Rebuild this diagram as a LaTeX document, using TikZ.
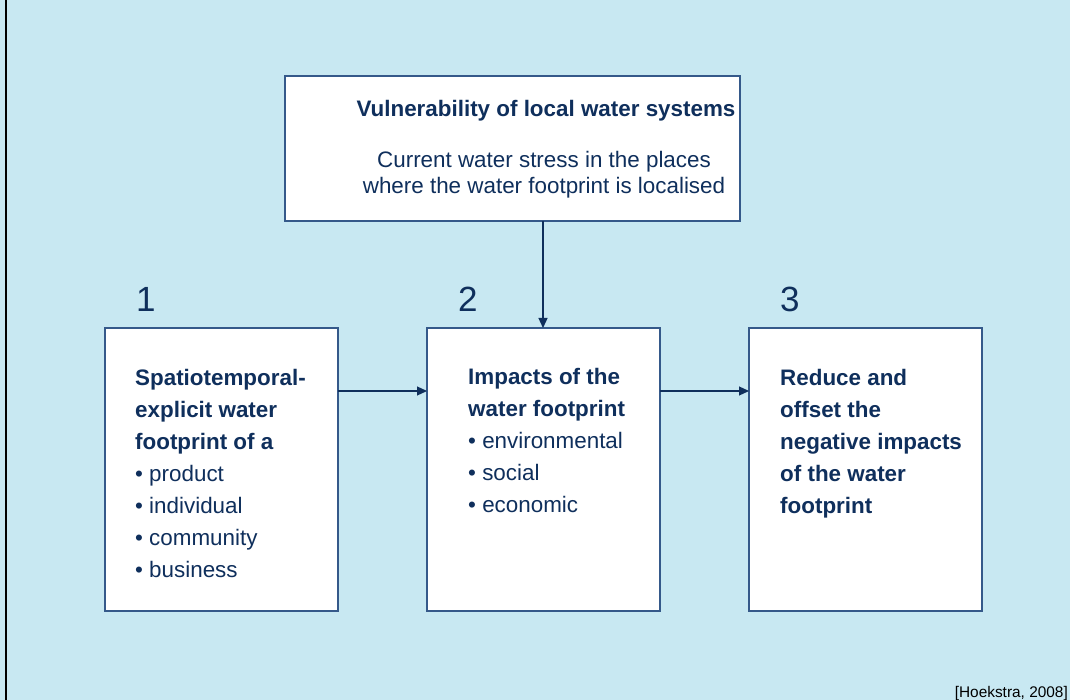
\documentclass[tikz,border=0pt]{standalone}
\usepackage{fontspec}
\setmainfont{Liberation Sans}
\usetikzlibrary{arrows.meta}
\definecolor{bg}{HTML}{C8E8F2}
\definecolor{navy}{HTML}{0F2F5C}
\definecolor{edgec}{HTML}{35598A}
\begin{document}
\begin{tikzpicture}[x=1pt,y=-1pt,
  boxstyle/.style={draw=edgec, line width=1.5pt, fill=white, inner sep=0pt, outer sep=0pt, anchor=north west},
  txt/.style={text=navy, inner sep=0pt, align=left, anchor=base west, font=\fontsize{22.4}{32}\selectfont},
  numstyle/.style={text=navy, inner sep=0pt, anchor=base west, font=\fontsize{35}{40}\selectfont},
  arr/.style={draw=navy, line width=1.2pt, -{Triangle[length=10pt,width=9pt]}}]
\fill[bg] (0,0) rectangle (1070,700);
\useasboundingbox (0,0) rectangle (1070,700);
\draw[black, line width=2pt] (6,0) -- (6,700);

% top box
\node[boxstyle, minimum width=455pt, minimum height=145pt] (top) at (285,76) {};
\node[text=navy, inner sep=0pt, anchor=base, font=\fontsize{22.4}{26}\selectfont\bfseries] (title) at (546,117) {Vulnerability of local water systems};
\node[text=navy, inner sep=0pt, anchor=base, align=center, font=\fontsize{22.4}{25.6}\selectfont] (body) at (544,193.6) {Current water stress in the places\\where the water footprint is localised};

% bottom boxes
\node[boxstyle, minimum width=233pt, minimum height=283pt] (b1) at (105,328) {};
\node[boxstyle, minimum width=233pt, minimum height=283pt] (b2) at (427,328) {};
\node[boxstyle, minimum width=233pt, minimum height=283pt] (b3) at (749,328) {};

\node[numstyle] (n1) at (136,312) {1};
\node[numstyle] (n2) at (458,312) {2};
\node[numstyle] (n3) at (780,312) {3};

% text nodes: base anchor is the baseline of the last line
\node[txt] (t1) at (135,577) {\textbf{Spatiotemporal-}\\\textbf{explicit water}\\\textbf{footprint of a}\\• product\\• individual\\• community\\• business};
\node[txt] (t2) at (468,512) {\textbf{Impacts of the}\\\textbf{water footprint}\\• environmental\\• social\\• economic};
\node[txt] (t3) at (780,513) {\textbf{Reduce and}\\\textbf{offset the}\\\textbf{negative impacts}\\\textbf{of the water}\\\textbf{footprint}};

% connectors
\coordinate (hy) at (0,391);
\coordinate (vx) at (543,0);
\draw[arr] (b1.east |- hy) -- (b2.west |- hy);
\draw[arr] (b2.east |- hy) -- (b3.west |- hy);
\draw[arr] (top.south -| vx) -- (b2.north -| vx);

\node[text=black, inner sep=0pt, anchor=base east, font=\fontsize{15.4}{18}\selectfont] (ref) at (1068,697) {[Hoekstra, 2008]};
\end{tikzpicture}
\end{document}
